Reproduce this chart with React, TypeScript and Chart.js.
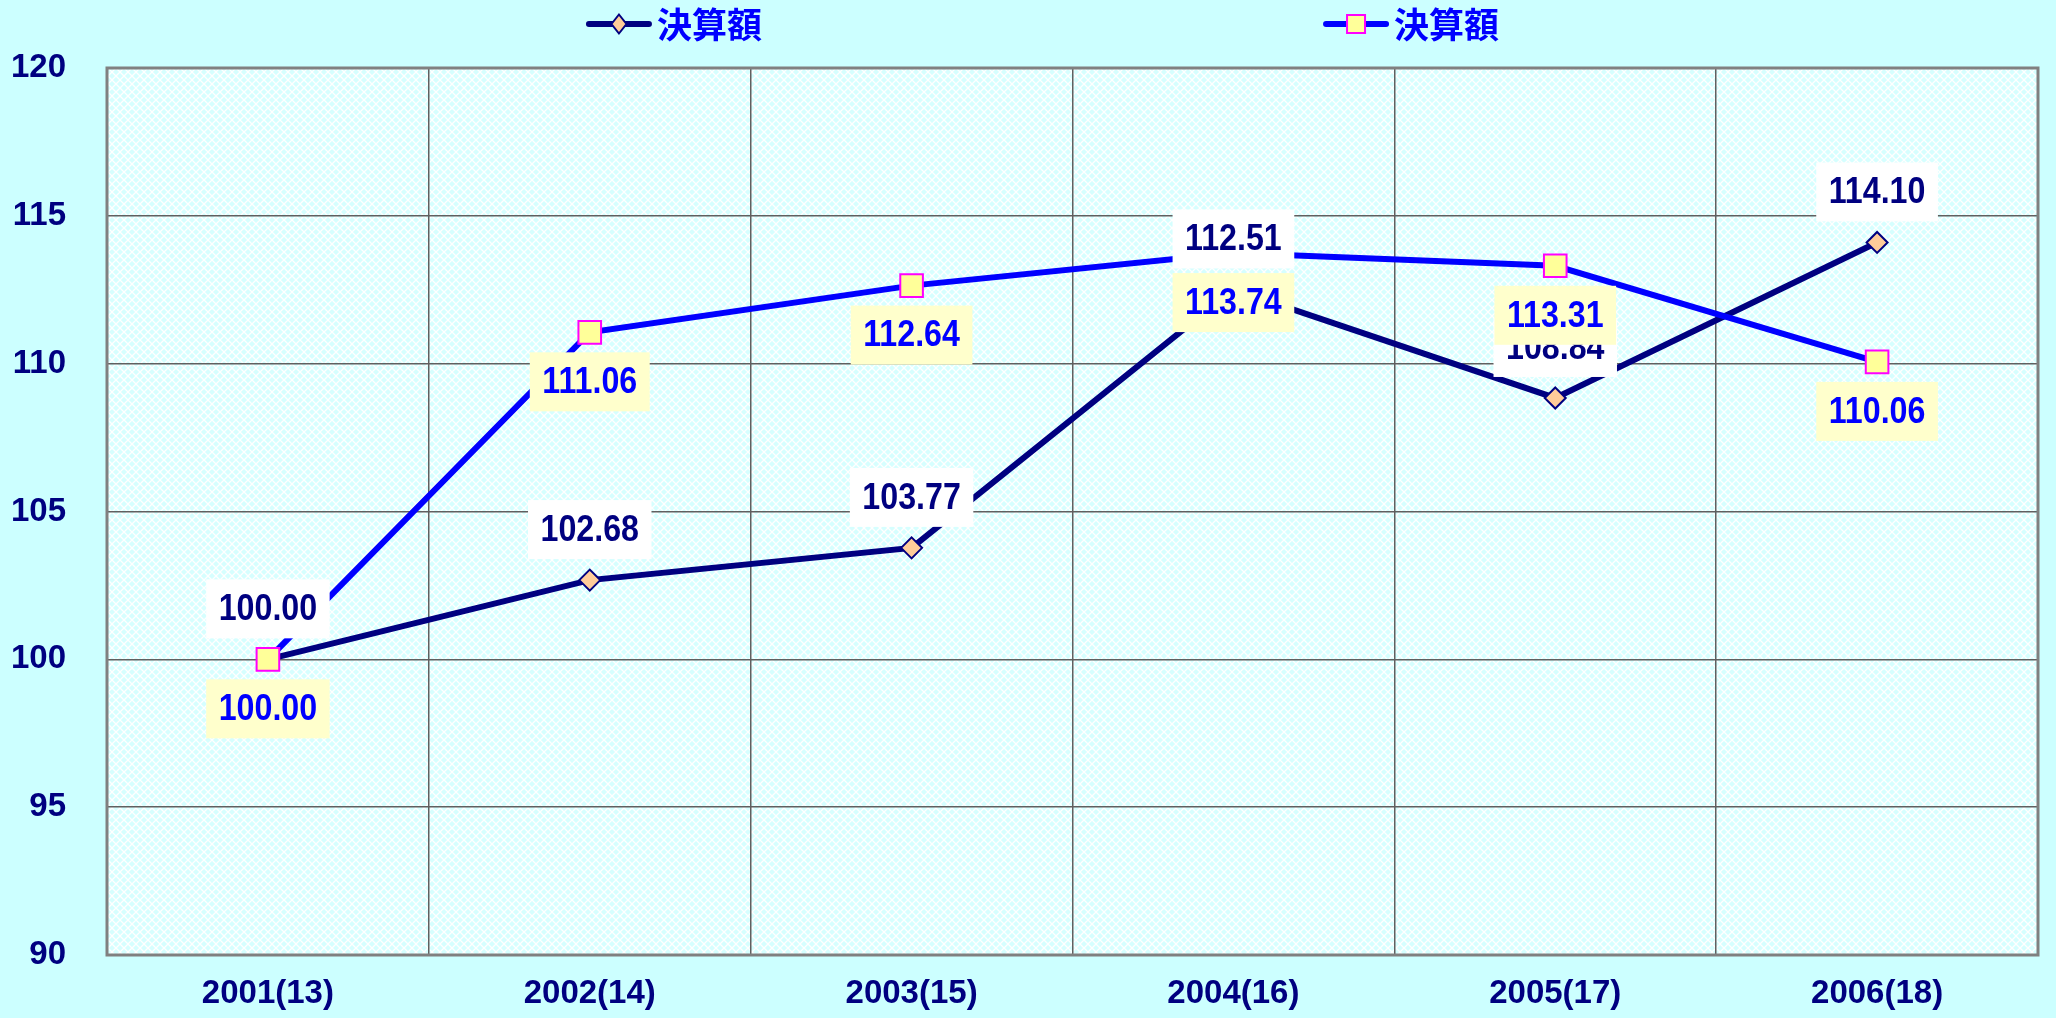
import React, { useEffect, useRef } from 'react';
import { Chart, registerables } from 'chart.js';

Chart.register(...registerables);

const categories = ['2001(13)', '2002(14)', '2003(15)', '2004(16)', '2005(17)', '2006(18)'];
const seriesA = [100.0, 102.68, 103.77, 112.51, 108.84, 114.1];
const seriesB = [100.0, 111.06, 112.64, 113.74, 113.31, 110.06];
const seriesNames = ['決算額', '決算額'];
const yMin = 90;
const yMax = 120;
const yStep = 5;

const NAVY = '#000080';
const BLUE = '#0000FF';
const BG = '#CCFFFF';
const NUM_FONT = "'Liberation Sans', Arial, sans-serif";
const CJK_FONT = "'Noto Sans CJK JP', 'Noto Sans', sans-serif";

function makePattern(ctx: CanvasRenderingContext2D) {
  const c = document.createElement('canvas');
  c.width = 8;
  c.height = 8;
  const g = c.getContext('2d')!;
  g.fillStyle = '#D6FFFF';
  g.fillRect(0, 0, 8, 8);
  g.strokeStyle = '#FFFFFF';
  g.lineWidth = 1.3;
  g.beginPath();
  g.moveTo(0, 0);
  g.lineTo(8, 8);
  g.moveTo(8, 0);
  g.lineTo(0, 8);
  g.stroke();
  return ctx.createPattern(c, 'repeat');
}

const backgroundPlugin = {
  id: 'bgPlugin',
  beforeDraw(chart: any) {
    const { ctx, chartArea, width, height } = chart;
    ctx.save();
    ctx.fillStyle = BG;
    ctx.fillRect(0, 0, width, height);
    const pat = makePattern(ctx);
    ctx.fillStyle = pat || '#E4FFFF';
    ctx.fillRect(chartArea.left, chartArea.top, chartArea.right - chartArea.left, chartArea.bottom - chartArea.top);
    ctx.restore();
  },
  beforeDatasetsDraw(chart: any) {
    const { ctx, chartArea } = chart;
    ctx.save();
    ctx.strokeStyle = '#808080';
    ctx.lineWidth = 3;
    ctx.strokeRect(chartArea.left, chartArea.top, chartArea.right - chartArea.left, chartArea.bottom - chartArea.top);
    ctx.restore();
  },
};

const LABEL_SCALE_X = 0.87;

const labelPlugin = {
  id: 'labelPlugin',
  afterDatasetsDraw(chart: any) {
    const ctx = chart.ctx;
    ctx.save();
    ctx.font = `bold 37px ${NUM_FONT}`;
    ctx.textAlign = 'center';
    ctx.textBaseline = 'middle';
    chart.data.datasets.forEach((ds: any, i: number) => {
      const meta = chart.getDatasetMeta(i);
      meta.data.forEach((pt: any, j: number) => {
        const text = Number(ds.data[j]).toFixed(2);
        const w = ctx.measureText(text).width * LABEL_SCALE_X + 25;
        const h = 59;
        const top = ds.labelSide === 'above' ? pt.y - 21 - h : pt.y + 20;
        ctx.fillStyle = ds.labelBg;
        ctx.fillRect(pt.x - w / 2, top, w, h);
        ctx.fillStyle = ds.labelColor;
        ctx.save();
        ctx.translate(pt.x, top + h / 2 + 1);
        ctx.scale(LABEL_SCALE_X, 1);
        ctx.fillText(text, 0, 0);
        ctx.restore();
      });
    });
    ctx.restore();
  },
};

const legendPlugin = {
  id: 'customLegend',
  afterDraw(chart: any) {
    const { ctx, width } = chart;
    const starts = [0.285, 0.6435];
    const yc = 24;
    ctx.save();
    chart.data.datasets.forEach((ds: any, i: number) => {
      const x0 = width * starts[i];
      const x1 = x0 + 66;
      ctx.strokeStyle = ds.borderColor;
      ctx.lineWidth = 6;
      ctx.lineCap = 'round';
      ctx.beginPath();
      ctx.moveTo(x0 + 3, yc);
      ctx.lineTo(x1 - 3, yc);
      ctx.stroke();
      const cx = (x0 + x1) / 2;
      ctx.lineWidth = 2;
      ctx.fillStyle = ds.pointBackgroundColor;
      ctx.strokeStyle = ds.pointBorderColor;
      ctx.beginPath();
      if (ds.pointStyle === 'rectRot') {
        ctx.moveTo(cx - 7.5, yc);
        ctx.lineTo(cx, yc - 9.5);
        ctx.lineTo(cx + 7.5, yc);
        ctx.lineTo(cx, yc + 9.5);
        ctx.closePath();
      } else {
        ctx.rect(cx - 9, yc - 9, 18, 18);
      }
      ctx.fill();
      ctx.stroke();
      ctx.fillStyle = BLUE;
      ctx.font = `bold 35px ${CJK_FONT}`;
      ctx.textAlign = 'left';
      ctx.textBaseline = 'middle';
      ctx.fillText(ds.label, x1 + 5, yc + 1);
    });
    ctx.restore();
  },
};

export default function App() {
  const ref = useRef<HTMLCanvasElement | null>(null);

  useEffect(() => {
    document.body.style.margin = '0';
    document.body.style.background = BG;
    const canvas = ref.current!;
    const chart = new Chart(canvas, {
      type: 'line',
      data: {
        labels: categories,
        datasets: [
          {
            label: seriesNames[0],
            data: seriesA,
            borderColor: NAVY,
            borderWidth: 6,
            pointStyle: 'rectRot',
            pointRadius: 10.5,
            pointHoverRadius: 10.5,
            pointBackgroundColor: '#FFCC99',
            pointBorderColor: NAVY,
            pointBorderWidth: 2,
            tension: 0,
            fill: false,
            order: 2,
            labelBg: '#FFFFFF',
            labelColor: NAVY,
            labelSide: 'above',
          } as any,
          {
            label: seriesNames[1],
            data: seriesB,
            borderColor: BLUE,
            borderWidth: 6,
            pointStyle: 'rect',
            pointRadius: 16,
            pointHoverRadius: 16,
            pointBackgroundColor: '#FFFF99',
            pointBorderColor: '#FF00FF',
            pointBorderWidth: 2,
            tension: 0,
            fill: false,
            order: 1,
            labelBg: '#FFFFCC',
            labelColor: BLUE,
            labelSide: 'below',
          } as any,
        ],
      },
      options: {
        responsive: false,
        animation: false,
        devicePixelRatio: 1,
        layout: { padding: { top: 68, left: 10, right: 5, bottom: 0 } },
        plugins: {
          legend: { display: false },
          tooltip: { enabled: false },
          title: { display: false },
        },
        scales: {
          x: {
            type: 'category',
            offset: true,
            grid: { offset: true, color: '#606060', lineWidth: 1.5, drawTicks: false },
            border: { display: false },
            ticks: {
              color: NAVY,
              font: { family: NUM_FONT, size: 33, weight: 'bold' },
              padding: 19,
              maxRotation: 0,
            },
            afterFit: (scale: any) => {
              scale.height = 63;
            },
          },
          y: {
            min: yMin,
            max: yMax,
            grid: { color: '#606060', lineWidth: 1.5, drawTicks: false },
            border: { display: false },
            ticks: {
              stepSize: yStep,
              color: NAVY,
              font: { family: NUM_FONT, size: 33, weight: 'bold' },
              padding: 41,
            },
            afterFit: (scale: any) => {
              scale.width = 97;
            },
          },
        },
      },
      plugins: [backgroundPlugin, labelPlugin, legendPlugin],
    });
    return () => chart.destroy();
  }, []);

  return (
    <div style={{ width: 2056, height: 1018 }}>
      <canvas ref={ref} width={2056} height={1018} style={{ display: 'block', width: 2056, height: 1018 }} />
    </div>
  );
}
